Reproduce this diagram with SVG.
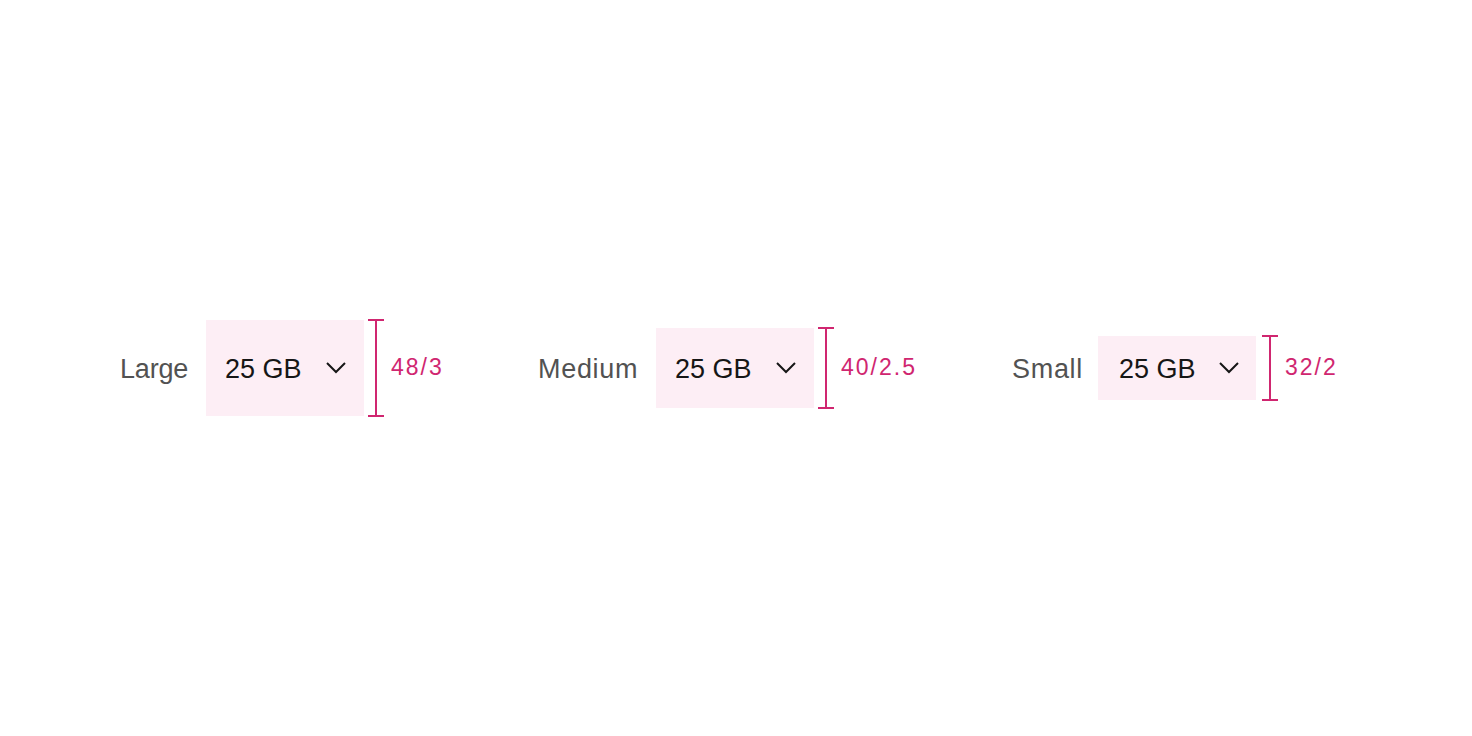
<svg xmlns="http://www.w3.org/2000/svg" width="1472" height="736" viewBox="0 0 1472 736">
<style>
.lbl{font-family:"Liberation Sans","Noto Sans",sans-serif;font-size:27px;fill:#525252;letter-spacing:0.7px}
.val{font-family:"Liberation Sans","Noto Sans",sans-serif;font-size:27px;fill:#161616}
.box{fill:#fdeef5}
.chev{fill:none;stroke:#161616;stroke-width:2}
.meas{fill:none;stroke:#d02670;stroke-width:2}
.mtxt{font-family:"Liberation Sans","Noto Sans",sans-serif;font-size:23px;fill:#d02670;letter-spacing:2px}
</style>
<rect width="1472" height="736" fill="#ffffff"/>
<g id="large">
<text class="lbl" x="120" y="378" textLength="69">Large</text>
<rect class="box" x="206" y="320" width="158" height="96"/>
<text class="val" x="225" y="378">25 GB</text>
<polyline class="chev" points="327,363 336,372 345,363"/>
</g>
<g id="medium">
<text class="lbl" x="538" y="378">Medium</text>
<rect class="box" x="656" y="328" width="158" height="80"/>
<text class="val" x="675" y="378">25 GB</text>
<polyline class="chev" points="777,363 786,372 795,363"/>
</g>
<g id="small">
<text class="lbl" x="1012" y="378">Small</text>
<rect class="box" x="1098" y="336" width="158" height="64"/>
<text class="val" x="1119" y="378">25 GB</text>
<polyline class="chev" points="1220,363 1229,372 1238,363"/>
</g>
<g id="measures">
<path class="meas" d="M376,320V416M368,320H384M368,416H384"/>
<text class="mtxt" x="391" y="375">48/3</text>
<path class="meas" d="M826,328V408M818,328H834M818,408H834"/>
<text class="mtxt" x="841" y="375">40/2.5</text>
<path class="meas" d="M1270,336V400M1262,336H1278M1262,400H1278"/>
<text class="mtxt" x="1285" y="375">32/2</text>
</g>
</svg>
